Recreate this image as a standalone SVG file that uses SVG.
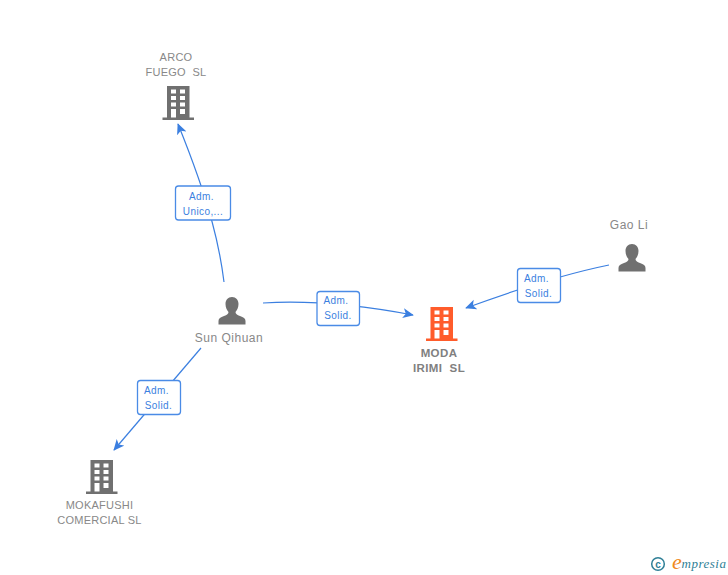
<svg xmlns="http://www.w3.org/2000/svg" width="728" height="575" viewBox="0 0 728 575">
<style>
text{font-family:"Liberation Sans",Arial,sans-serif;font-size:11px;fill:#888;text-anchor:middle;letter-spacing:.25px;white-space:pre}
.n{font-size:12px;letter-spacing:.5px}
.b{font-weight:bold;fill:#808080;font-size:11.500px;letter-spacing:.4px}
.l{fill:#3b7fe0;font-size:10px;letter-spacing:.4px}
.c{fill:none;stroke:#3b7fe0;stroke-width:1.2}
.box{fill:#fff;stroke:#4a8be6;stroke-width:1.3}
</style>
<defs>
<marker id="a" viewBox="0 0 12 12" refX="11" refY="6" markerWidth="11" markerHeight="11" markerUnits="userSpaceOnUse" orient="auto"><path d="M0 0.500L12 6L0 11.500L3 6Z" fill="#3b7fe0"/></marker>
<symbol id="bld" viewBox="0 0 32 34" width="32" height="34" overflow="visible">
<path fill-rule="evenodd" d="M4.500 0H27V31.500H31.500V34H0V31.500H4.500ZM8.500 3.500V7.500H13.500V3.500ZM17.500 3.500V7.500H22.500V3.500ZM8.500 10V14H13.500V10ZM17.500 10V14H22.500V10ZM8.500 16.500V20.500H13.500V16.500ZM17.500 16.500V20.500H22.500V16.500ZM8.500 23V31.500H13.500V23ZM17.500 23V28H22.500V23Z"/>
</symbol>
<symbol id="per" viewBox="0 0 28 28" width="28" height="28" overflow="visible">
<path d="M14 0C18 0 20.500 3 20.500 7C20.500 10.500 19 13.500 17.500 15C17.500 17 19 17.800 22 19C25.500 20.300 27.500 21.500 27.500 24V27.500H0.500V24C0.500 21.500 2.500 20.300 6 19C9 17.800 10.500 17 10.500 15C9 13.500 7.500 10.500 7.500 7C7.500 3 10 0 14 0Z" fill="#707070"/>
</symbol>
</defs>
<g id="connectors">
<path class="c" d="M224 282C220 250 212 208 178 124" marker-end="url(#a)"/>
<path class="c" d="M263 303C310 300 360 305 413 315" marker-end="url(#a)"/>
<path class="c" d="M609 265C560 275 515 290 466 308" marker-end="url(#a)"/>
<path class="c" d="M201 348L114 450" marker-end="url(#a)"/>
</g>
<g id="label-1"><rect class="box" x="175.500" y="186" width="55" height="34" rx="3"/><text class="l" x="201.500" y="199.500">Adm.</text><text class="l" x="203" y="214.500">Unico,...</text></g>
<g id="label-2"><rect class="box" x="317" y="291.500" width="42.500" height="34" rx="3"/><text class="l" x="336" y="304">Adm.</text><text class="l" x="338" y="319">Solid.</text></g>
<g id="label-3"><rect class="box" x="517.500" y="268.500" width="43" height="34" rx="3"/><text class="l" x="536.500" y="281.500">Adm.</text><text class="l" x="538.500" y="296.500">Solid.</text></g>
<g id="label-4"><rect class="box" x="137.500" y="380.500" width="43" height="34" rx="3"/><text class="l" x="156.500" y="393.500">Adm.</text><text class="l" x="158.500" y="408.500">Solid.</text></g>
<g id="node-arco"><text x="176" y="61">ARCO</text><text x="176" y="76" xml:space="preserve">FUEGO  SL</text><use href="#bld" x="162.500" y="86" fill="#707070"/></g>
<g id="node-sun"><use href="#per" x="218" y="297"/><text class="n" x="229" y="342">Sun Qihuan</text></g>
<g id="node-gao"><text class="n" x="629" y="229">Gao Li</text><use href="#per" x="618" y="244"/></g>
<g id="node-moda"><use href="#bld" x="426" y="307" fill="#ff5c2b"/><text class="b" x="439" y="357">MODA</text><text class="b" x="439" y="372" xml:space="preserve">IRIMI  SL</text></g>
<g id="node-moka"><use href="#bld" x="86" y="460" fill="#707070"/><text x="99.500" y="509">MOKAFUSHI</text><text x="99.500" y="524">COMERCIAL SL</text></g>
<g id="logo"><circle cx="658" cy="564" r="6.300" fill="none" stroke="#2f7f96" stroke-width="1.500"/><text x="658" y="567.500" style="font-size:10px;font-weight:bold;fill:#2f7f96;letter-spacing:0">c</text><text x="677" y="569" style="font-family:'Liberation Serif',serif;font-style:italic;font-size:22px;fill:#f08a1d;letter-spacing:0">e</text><text x="704" y="568" style="font-family:'Liberation Serif',serif;font-style:italic;font-size:13px;fill:#2f7f96;letter-spacing:.5px">mpresia</text></g>
</svg>
